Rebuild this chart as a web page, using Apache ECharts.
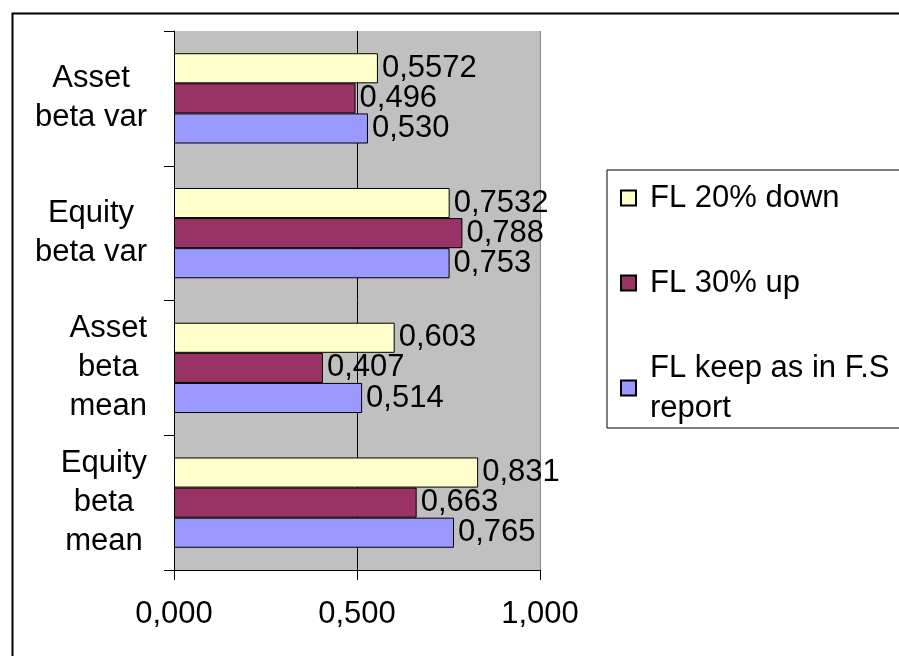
<!DOCTYPE html>
<html>
<head>
<meta charset="utf-8">
<script src="https://cdn.jsdelivr.net/npm/echarts@6/dist/echarts.min.js"></script>
<style>
html,body{margin:0;padding:0;background:#fff;}
#c{width:899px;height:656px;}
</style>
</head>
<body>
<div id="c"></div>
<script>
// Categories, bottom to top
const categories = ['Equity\nbeta\nmean', 'Asset\nbeta\nmean', 'Equity\nbeta var', 'Asset\nbeta var'];
const seriesNames = ['FL 20% down', 'FL 30% up', 'FL keep as in F.S\nreport'];
const down20 = [0.831, 0.603, 0.7532, 0.5572];
const up30 = [0.663, 0.407, 0.788, 0.496];
const keep = [0.765, 0.514, 0.753, 0.530];
const down20Labels = ['0,831', '0,603', '0,7532', '0,5572'];
const up30Labels = ['0,663', '0,407', '0,788', '0,496'];
const keepLabels = ['0,765', '0,514', '0,753', '0,530'];

const FONT = "'Liberation Sans', Arial, sans-serif";
const chart = echarts.init(document.getElementById('c'), null, {renderer: 'canvas'});

function barSeries(name, data, labels, color) {
  return {
    name: name,
    type: 'bar',
    data: data,
    barGap: '0%',
    barCategoryGap: '33%',
    itemStyle: {color: color, borderColor: '#000', borderWidth: 1},
    label: {
      show: true, position: 'right', distance: 4,
      color: '#000', fontSize: 31, fontFamily: FONT,
      formatter: p => labels[p.dataIndex]
    }
  };
}

chart.setOption({
  animation: false,
  backgroundColor: '#fff',
  graphic: [{
    type: 'rect', left: 10, top: 11, z: 100, silent: true,
    shape: {x: 0, y: 0, width: 900, height: 660},
    style: {fill: 'none', stroke: '#000', lineWidth: 2}
  }],
  grid: {
    left: 174, right: 359, top: 31, bottom: 86,
    show: true, backgroundColor: '#C0C0C0', borderWidth: 0
  },
  legend: {
    data: seriesNames,
    orient: 'vertical',
    left: 607, top: 170,
    padding: [8, 60, 0, 13],
    itemGap: 45,
    itemWidth: 15, itemHeight: 15,
    icon: 'rect',
    borderColor: '#000', borderWidth: 1,
    textStyle: {fontSize: 31, fontFamily: FONT, color: '#000', lineHeight: 40, padding: [0, 0, 0, 9]}
  },
  xAxis: {
    type: 'value', min: 0, max: 1, interval: 0.5,
    axisLine: {show: true, lineStyle: {color: '#000', width: 1}},
    axisTick: {show: true, length: 10, lineStyle: {color: '#000'}},
    axisLabel: {
      fontSize: 31, fontFamily: FONT, color: '#000', margin: 29,
      formatter: v => v.toFixed(3).replace('.', ',')
    },
    splitLine: {show: true, lineStyle: {color: ['#000', '#000', '#888'], width: 1}}
  },
  yAxis: {
    type: 'category', data: categories,
    axisLine: {show: true, lineStyle: {color: '#000', width: 1}},
    axisTick: {show: true, length: 10, lineStyle: {color: '#000'}},
    axisLabel: {
      align: 'right', margin: 27, fontSize: 31, fontFamily: FONT, color: '#000',
      formatter: v => v.split('\n').map(s => '{c|' + s + '}').join('\n'),
      rich: {c: {align: 'center', fontSize: 31, fontFamily: FONT, color: '#000', lineHeight: 39}}
    }
  },
  series: [
    barSeries(seriesNames[0], down20, down20Labels, '#FFFFCC'),
    barSeries(seriesNames[1], up30, up30Labels, '#993366'),
    barSeries(seriesNames[2], keep, keepLabels, '#9999FF')
  ]
});
</script>
</body>
</html>
